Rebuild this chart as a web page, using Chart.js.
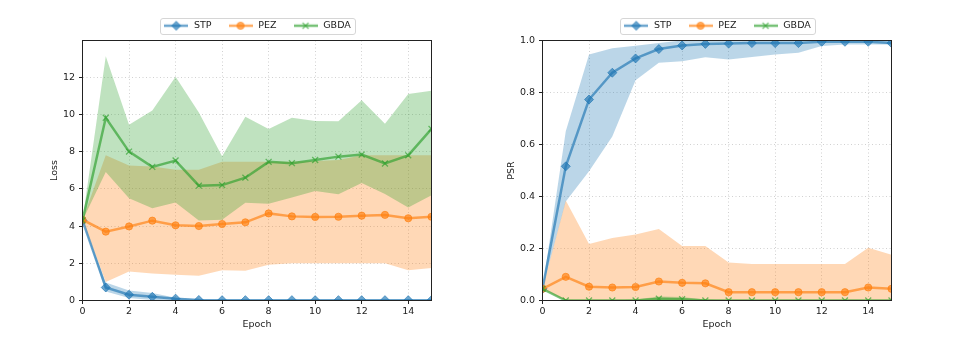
<!DOCTYPE html>
<html>
<head>
<meta charset="utf-8">
<script src="https://cdn.jsdelivr.net/npm/chart.js@4.4.1/dist/chart.umd.min.js"></script>
<style>
  body { margin: 0; background: #fff; width: 954px; height: 338px; overflow: hidden; display: flex; }
  canvas { display: block; }
</style>
</head>
<body>
<canvas id="lossChart" width="477" height="338"></canvas>
<canvas id="psrChart" width="477" height="338"></canvas>
<script>
const epochs = [0, 1, 2, 3, 4, 5, 6, 7, 8, 9, 10, 11, 12, 13, 14, 15];
const xTicks = [0, 2, 4, 6, 8, 10, 12, 14];

// Loss panel (mean, upper band, lower band)
const lossTicks = [0, 2, 4, 6, 8, 10, 12];
const stpLoss   = [4.3, 0.70, 0.31, 0.20, 0.10, 0.03, 0.02, 0.02, 0.02, 0.02, 0.02, 0.02, 0.02, 0.02, 0.02, 0.02];
const stpLossHi = [4.3, 0.97, 0.54, 0.40, 0.15, 0.05, 0.04, 0.04, 0.04, 0.04, 0.04, 0.04, 0.04, 0.04, 0.04, 0.04];
const stpLossLo = [4.3, 0.48, 0.13, 0.03, 0.00, 0.00, 0.00, 0.00, 0.00, 0.00, 0.00, 0.00, 0.00, 0.00, 0.00, 0.00];
const pezLoss   = [4.34, 3.70, 3.98, 4.29, 4.04, 4.00, 4.11, 4.20, 4.68, 4.52, 4.49, 4.50, 4.56, 4.60, 4.42, 4.50];
const pezLossHi = [4.34, 7.80, 7.25, 7.20, 7.03, 7.03, 7.45, 7.45, 7.45, 7.45, 7.50, 7.55, 7.80, 7.80, 7.80, 7.80];
const pezLossLo = [4.34, 0.99, 1.56, 1.45, 1.38, 1.33, 1.62, 1.60, 1.92, 2.00, 2.00, 2.00, 2.00, 2.00, 1.63, 1.74];
const gbdaLoss   = [4.3, 9.82, 8.00, 7.18, 7.52, 6.17, 6.20, 6.60, 7.45, 7.38, 7.55, 7.73, 7.84, 7.36, 7.80, 9.22];
const gbdaLossHi = [4.3, 13.13, 9.44, 10.21, 12.02, 10.10, 7.75, 9.87, 9.22, 9.82, 9.65, 9.63, 10.76, 9.50, 11.10, 11.27];
const gbdaLossLo = [4.3, 6.90, 5.50, 4.95, 5.27, 4.30, 4.34, 5.25, 5.20, 5.54, 5.89, 5.71, 6.32, 5.72, 5.00, 5.65];

// PSR panel
const psrTicks = [0, 0.2, 0.4, 0.6, 0.8, 1.0];
const stpPsr   = [0.045, 0.516, 0.773, 0.876, 0.931, 0.967, 0.981, 0.987, 0.988, 0.990, 0.990, 0.990, 0.995, 0.995, 0.995, 0.990];
const stpPsrHi = [0.045, 0.651, 0.946, 0.970, 0.980, 0.990, 1.0, 1.0, 1.0, 1.0, 1.0, 1.0, 1.0, 1.0, 1.0, 1.0];
const stpPsrLo = [0.045, 0.381, 0.497, 0.631, 0.847, 0.914, 0.920, 0.936, 0.927, 0.937, 0.946, 0.953, 0.979, 0.985, 0.985, 0.985];
const pezPsr   = [0.045, 0.091, 0.053, 0.050, 0.052, 0.073, 0.068, 0.066, 0.032, 0.032, 0.032, 0.032, 0.032, 0.032, 0.050, 0.045];
const pezPsrHi = [0.045, 0.385, 0.217, 0.240, 0.254, 0.275, 0.210, 0.210, 0.146, 0.140, 0.140, 0.140, 0.140, 0.140, 0.203, 0.176];
const pezPsrLo = [0.045, 0, 0, 0, 0, 0, 0, 0, 0, 0, 0, 0, 0, 0, 0, 0];
const gbdaPsr   = [0.045, 0, 0, 0, 0, 0.007, 0.005, 0, 0, 0, 0, 0, 0, 0, 0, 0];
const gbdaPsrHi = [0.045, 0.003, 0, 0, 0.004, 0.015, 0.013, 0.004, 0, 0, 0, 0, 0, 0, 0, 0];
const gbdaPsrLo = [0.045, 0, 0, 0, 0, 0, 0, 0, 0, 0, 0, 0, 0, 0, 0, 0];

const FONT = 'DejaVu Sans';
Chart.defaults.font.family = FONT;
Chart.defaults.font.size = 9.5;
Chart.defaults.color = '#222';

const rgba = (c, a) => `rgba(${c[0]},${c[1]},${c[2]},${a})`;
const LINE_A = 0.65, FILL_A = 0.3;

const methods = [
  { label: 'STP',  rgb: [31, 119, 180], style: 'rectRot',  radius: 4.5, bw: 1 },
  { label: 'PEZ',  rgb: [255, 127, 14], style: 'circle',   radius: 3.6, bw: 1 },
  { label: 'GBDA', rgb: [44, 160, 44],  style: 'crossRot', radius: 4.2, bw: 1.3 },
];

// small line + marker icons for the legend
function makeIcon(m) {
  const c = document.createElement('canvas');
  c.width = 24; c.height = 12;
  const ctx = c.getContext('2d');
  ctx.strokeStyle = rgba(m.rgb, LINE_A);
  ctx.lineWidth = 2.5;
  ctx.beginPath(); ctx.moveTo(0, 6); ctx.lineTo(24, 6); ctx.stroke();
  ctx.fillStyle = rgba(m.rgb, LINE_A);
  ctx.lineWidth = m.bw;
  Chart.helpers.drawPoint(ctx, { pointStyle: m.style, radius: m.radius, borderWidth: m.bw, rotation: 0 }, 12, 6);
  return c;
}
const icons = methods.map(makeIcon);

const pts = (ys) => epochs.map((e, i) => ({ x: e, y: ys[i] }));

function buildDatasets(groups) {
  const ds = [];
  groups.forEach(([mean, hi, lo], i) => {
    const m = methods[i];
    const base = ds.length;
    ds.push({
      label: m.label, data: pts(mean), isMain: true, methodIdx: i,
      borderColor: rgba(m.rgb, LINE_A), borderWidth: 2.5, fill: false,
      pointStyle: m.style, pointRadius: m.radius, pointHoverRadius: m.radius,
      pointBackgroundColor: rgba(m.rgb, LINE_A), pointBorderColor: rgba(m.rgb, LINE_A),
      pointBorderWidth: m.bw, order: 2 - i, clip: 0,
    });
    ds.push({
      label: m.label + ' hi', data: pts(hi), borderWidth: 0, pointRadius: 0, pointHitRadius: 0,
      backgroundColor: rgba(m.rgb, FILL_A), fill: base + 2, order: 5 - i, clip: 0,
    });
    ds.push({
      label: m.label + ' lo', data: pts(lo), borderWidth: 0, pointRadius: 0, pointHitRadius: 0,
      fill: false, order: 5 - i, clip: 0,
    });
  });
  return ds;
}

const frame = {
  id: 'frame',
  afterDraw(chart) {
    const { ctx, chartArea: a } = chart;
    ctx.save();
    ctx.strokeStyle = '#222';
    ctx.lineWidth = 1;
    ctx.strokeRect(a.left, a.top, a.right - a.left, a.bottom - a.top);
    // legend box
    const hb = chart.legend && chart.legend.legendHitBoxes;
    if (hb && hb.length) {
      const last = hb[hb.length - 1];
      const x0 = Math.round(hb[0].left - 3) + 0.5;
      const x1 = Math.round(last.left + last.width + 4) + 0.5;
      const yc = hb[0].top + hb[0].height / 2;
      const y0 = Math.round(yc - 8) + 0.5, y1 = Math.round(yc + 8) + 0.5;
      ctx.strokeStyle = '#d6d6d6';
      ctx.beginPath();
      ctx.roundRect(x0, y0, x1 - x0, y1 - y0, 2.5);
      ctx.stroke();
    }
    ctx.restore();
  },
};

const gridOpts = {
  color: 'rgba(0,0,0,0.18)', lineWidth: 1,
  drawTicks: true, tickLength: 3.5, tickColor: '#222', tickWidth: 1, tickBorderDash: [],
};
// in Chart.js v4 the grid line dash comes from border.dash
const borderOpts = { display: false, dash: [1, 2.5] };

function makeChart(id, opts) {
  return new Chart(document.getElementById(id), {
    type: 'line',
    data: { datasets: buildDatasets(opts.groups) },
    options: {
      responsive: false,
      animation: false,
      events: [],
      layout: { padding: opts.padding },
      scales: {
        x: {
          type: 'linear', min: 0, max: 15,
          afterBuildTicks: (s) => { s.ticks = xTicks.map(v => ({ value: v })); },
          afterFit: (s) => { s.height = 37.5; },
          border: borderOpts,
          grid: gridOpts,
          ticks: { padding: 2, color: '#222', maxRotation: 0 },
          title: { display: true, text: 'Epoch', color: '#222', padding: { top: 2, bottom: 7.5 } },
        },
        y: {
          type: 'linear', min: 0, max: opts.yMax,
          afterBuildTicks: (s) => { s.ticks = opts.yTicks.map(v => ({ value: v })); },
          afterFit: (s) => { s.width = opts.yWidth; },
          border: borderOpts,
          grid: gridOpts,
          ticks: { padding: 4, color: '#222', callback: opts.fmt },
          title: { display: true, text: opts.yTitle, color: '#222', padding: { top: 4, bottom: 4 } },
        },
      },
      plugins: {
        tooltip: { enabled: false },
        legend: {
          position: 'top',
          fullSize: false,
          labels: {
            usePointStyle: true,
            pointStyleWidth: 26,
            padding: 16,
            color: '#222',
            generateLabels: (chart) => chart.data.datasets
              .map((d, i) => ({ d, i }))
              .filter(o => o.d.isMain)
              .map(o => ({
                text: o.d.label, datasetIndex: o.i, hidden: false,
                pointStyle: icons[o.d.methodIdx], rotation: 0,
                fillStyle: 'transparent', strokeStyle: 'transparent', lineWidth: 0, fontColor: '#222',
              })),
          },
        },
      },
    },
    plugins: [frame],
  });
}

makeChart('lossChart', {
  groups: [[stpLoss, stpLossHi, stpLossLo], [pezLoss, pezLossHi, pezLossLo], [gbdaLoss, gbdaLossHi, gbdaLossLo]],
  yMax: 13.97, yTicks: lossTicks, yTitle: 'Loss', yWidth: 37.5,
  padding: { left: 45, right: 45.5, top: 5, bottom: 0 },
  fmt: (v) => String(v),
});

makeChart('psrChart', {
  groups: [[stpPsr, stpPsrHi, stpPsrLo], [pezPsr, pezPsrHi, pezPsrLo], [gbdaPsr, gbdaPsrHi, gbdaPsrLo]],
  yMax: 1.0, yTicks: psrTicks, yTitle: 'PSR', yWidth: 40.5,
  padding: { left: 25, right: 62.5, top: 5, bottom: 0 },
  fmt: (v) => Number(v).toFixed(1),
});
</script>
</body>
</html>
